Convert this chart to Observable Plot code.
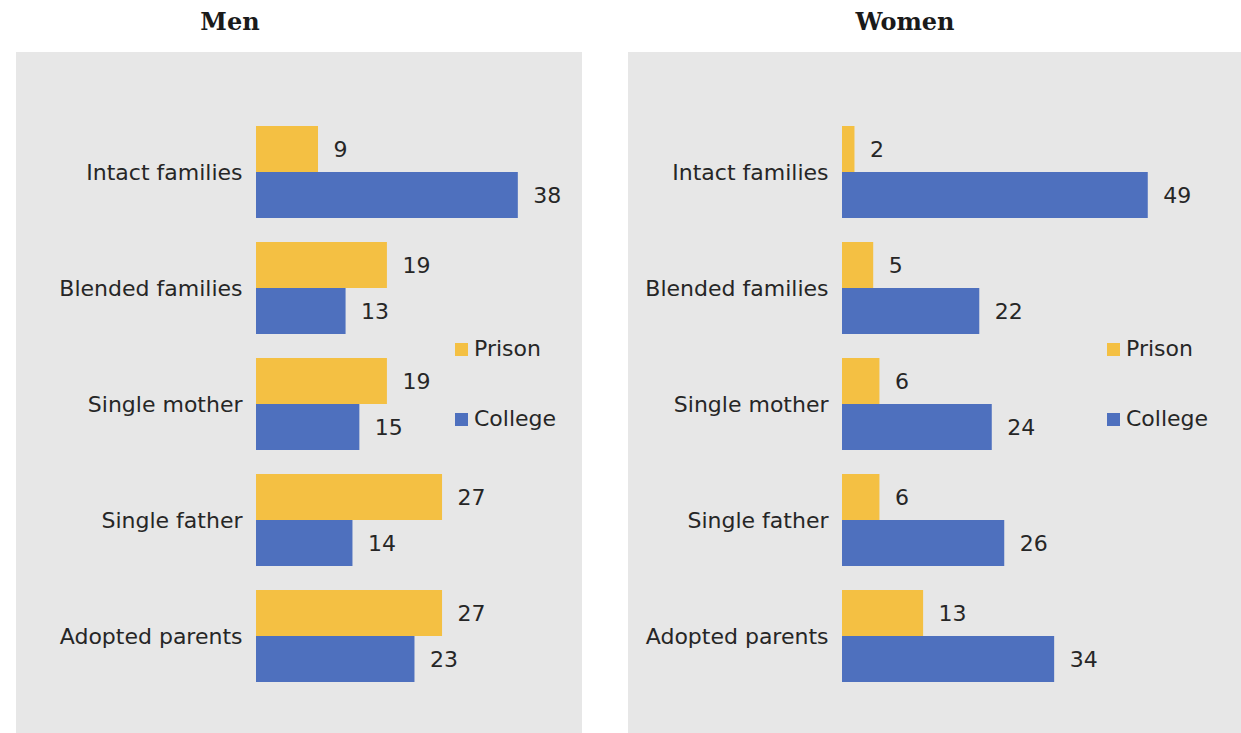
<!DOCTYPE html>
<html>
<head>
<meta charset="utf-8">
<script src="https://cdn.jsdelivr.net/npm/d3@7"></script>
<script src="https://cdn.jsdelivr.net/npm/@observablehq/plot@0.6"></script>
<style>
  body { margin: 0; background: #fff; }
  #root { position: relative; width: 1241px; height: 733px; overflow: hidden; }
  .title { position: absolute; top: 7px; width: 240px; text-align: center;
           font-family: "DejaVu Serif", serif; font-weight: bold; font-size: 24px; color: #1a1a1a; }
  .panel { position: absolute; top: 52px; }
  .leg { position: absolute; font-family: "DejaVu Sans", sans-serif; font-size: 22px; color: #262626;
         line-height: 26px; white-space: nowrap; }
  .sw { position: absolute; width: 13px; height: 13px; }
</style>
</head>
<body>
<div id="root">
  <div class="title" style="left:110px">Men</div>
  <div class="title" style="left:785px">Women</div>
  <div id="men" class="panel" style="left:16px"></div>
  <div id="women" class="panel" style="left:628px"></div>
</div>
<script>
const categories = ["Intact families", "Blended families", "Single mother", "Single father", "Adopted parents"];
const seriesNames = ["Prison", "College"];
const seriesColors = ["#F4C043", "#4E70BE"];
const menPrison = [9, 19, 19, 27, 27];
const menCollege = [38, 13, 15, 14, 23];
const womenPrison = [2, 5, 6, 6, 13];
const womenCollege = [49, 22, 24, 26, 34];

function rowsOf(prison, college) {
  const rows = [];
  categories.forEach((c, i) => {
    rows.push({cat: c, series: "Prison", value: prison[i]});
    rows.push({cat: c, series: "College", value: college[i]});
  });
  return rows;
}

function panel(rows, opts) {
  return Plot.plot({
    width: opts.width,
    height: 681,
    marginLeft: opts.marginLeft,
    marginRight: opts.marginRight,
    marginTop: 72,
    marginBottom: 48,
    style: {background: "#E7E7E7", fontFamily: "DejaVu Sans, sans-serif", fontSize: "22px", color: "#262626"},
    x: {domain: [0, opts.xmax], axis: null},
    y: {domain: seriesNames, axis: null, paddingInner: 0, paddingOuter: 0},
    fy: {domain: categories, paddingInner: 0.205, paddingOuter: 0, axis: "left", tickSize: 0, tickPadding: 14, label: null},
    color: {domain: seriesNames, range: seriesColors},
    marks: [
      Plot.barX(rows, {x: "value", y: "series", fy: "cat", fill: "series"}),
      Plot.text(rows, {x: "value", y: "series", fy: "cat", text: d => String(d.value), dx: 15, textAnchor: "start", fill: "#262626", fontSize: 22})
    ]
  });
}

document.getElementById("men").append(panel(rowsOf(menPrison, menCollege), {width: 566, marginLeft: 240, marginRight: 50.4, xmax: 40}));
document.getElementById("women").append(panel(rowsOf(womenPrison, womenCollege), {width: 613, marginLeft: 214, marginRight: 87, xmax: 50}));

// legends
const root = document.getElementById("root");
function legend(left) {
  seriesNames.forEach((s, i) => {
    const top = i === 0 ? 343 : 413;
    const sw = document.createElement("div");
    sw.className = "sw";
    sw.style.left = left + "px";
    sw.style.top = top + "px";
    sw.style.background = seriesColors[i];
    root.append(sw);
    const t = document.createElement("div");
    t.className = "leg";
    t.textContent = s;
    t.style.left = (left + 19) + "px";
    t.style.top = (top - 7) + "px";
    root.append(t);
  });
}
legend(455);
legend(1107);
</script>
</body>
</html>
